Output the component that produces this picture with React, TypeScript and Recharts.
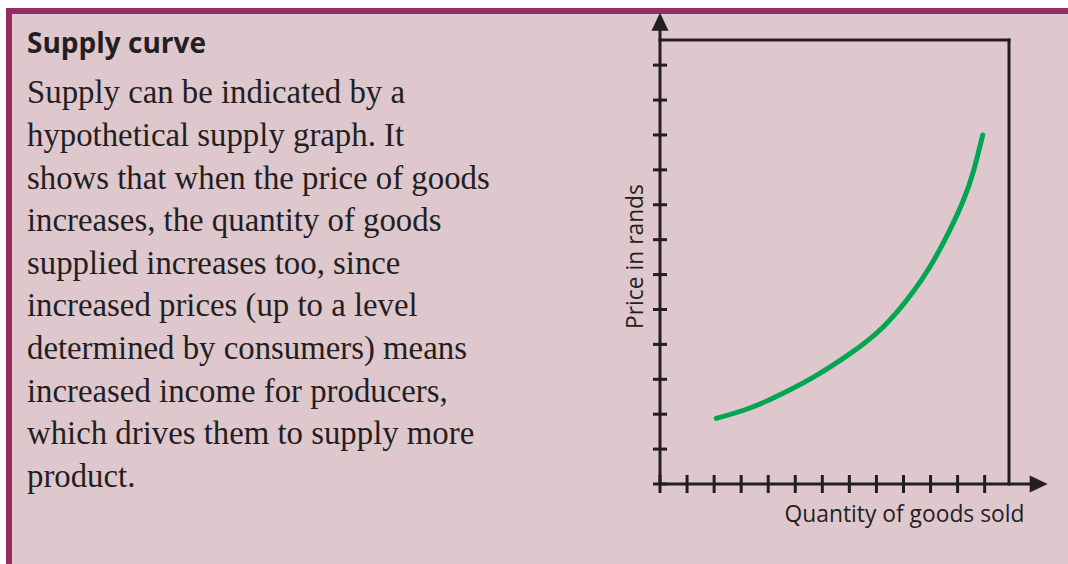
import React from 'react';
import { LineChart, Line, XAxis, YAxis, ReferenceLine } from 'recharts';

// ---- data ----
const QUANTITY = [2.08, 3.3, 4.55, 5.8, 7.0, 8.25, 9.35, 10.0, 10.6, 11.2, 11.6, 11.93];
const PRICE = [1.88, 2.17, 2.6, 3.12, 3.72, 4.5, 5.5, 6.25, 7.1, 8.1, 9.0, 10.0];
const X_TICKS = [0, 1, 2, 3, 4, 5, 6, 7, 8, 9, 10, 11, 12];
const Y_TICKS = [0, 1, 2, 3, 4, 5, 6, 7, 8, 9, 10, 11, 12];
const X_MAX = 12.9;
const Y_MAX = 12.72;
const X_ARROW = 14.33;
const Y_ARROW = 13.5;

const TITLE = 'Supply curve';
const BODY_LINES = [
  'Supply can be indicated by a',
  'hypothetical supply graph. It',
  'shows that when the price of goods',
  'increases, the quantity of goods',
  'supplied increases too, since',
  'increased prices (up to a level',
  'determined by consumers) means',
  'increased income for producers,',
  'which drives them to supply more',
  'product.',
];
const X_LABEL = 'Quantity of goods sold';
const Y_LABEL = 'Price in rands';

const data = QUANTITY.map((q, i) => ({ q, p: PRICE[i] }));

const INK = '#231f20';
const GREEN = '#00a651';
const PANEL = '#dfc7ce';
const BORDER = '#962c63';

const ArrowLine = (props: any) => {
  const { x1, y1, x2, y2 } = props;
  const dx = x2 - x1;
  const dy = y2 - y1;
  const len = Math.hypot(dx, dy) || 1;
  const ux = dx / len;
  const uy = dy / len;
  const headLen = 18;
  const half = 8.5;
  const bx = x2 - ux * headLen;
  const by = y2 - uy * headLen;
  const px = -uy;
  const py = ux;
  return (
    <g>
      <line x1={x1} y1={y1} x2={bx + ux} y2={by + uy} stroke={INK} strokeWidth={3} />
      <polygon
        points={`${x2},${y2} ${bx + px * half},${by + py * half} ${bx - px * half},${by - py * half}`}
        fill={INK}
      />
    </g>
  );
};

const BoxLine = (props: any) => {
  const { x1, y1, x2, y2 } = props;
  return <line x1={x1} y1={y1} x2={x2} y2={y2} stroke={INK} strokeWidth={3} strokeLinecap="square" />;
};

const XTick = (props: any) => {
  const { x, y } = props;
  return <line x1={x} x2={x} y1={y - 9} y2={y + 9} stroke={INK} strokeWidth={3} />;
};

const YTick = (props: any) => {
  const { x, y } = props;
  return <line x1={x - 7} x2={x + 7} y1={y} y2={y} stroke={INK} strokeWidth={3} />;
};

const XLabel = (props: any) => {
  const vb = props.viewBox || { x: 660, y: 484, width: 349 };
  return (
    <text
      x={vb.x + 244.5}
      y={vb.y + 38}
      textAnchor="middle"
      fill={INK}
      fontFamily="'Open Sans', sans-serif"
      fontSize={22.8}
    >
      {X_LABEL}
    </text>
  );
};

const YLabel = (props: any) => {
  const vb = props.viewBox || { x: 659, y: 40, width: 1, height: 444 };
  const cx = vb.x + vb.width - 17;
  const cy = 256.5;
  return (
    <text
      x={cx}
      y={cy}
      transform={`rotate(-90 ${cx} ${cy})`}
      textAnchor="middle"
      fill={INK}
      fontFamily="'Open Sans', sans-serif"
      fontSize={22.8}
    >
      {Y_LABEL}
    </text>
  );
};

export default function App() {
  return (
    <div style={{ position: 'absolute', left: 0, top: 0, width: 1068, height: 564, background: '#ffffff', overflow: 'hidden' }}>
      <div
        style={{
          position: 'absolute',
          left: 6,
          top: 8,
          width: 1062,
          height: 556,
          background: PANEL,
          borderLeft: `6px solid ${BORDER}`,
          borderTop: `6px solid ${BORDER}`,
          boxSizing: 'border-box',
        }}
      />
      <svg width={1068} height={564} style={{ position: 'absolute', left: 0, top: 0 }}>
        <text x={27} y={53.3} fill={INK} fontFamily="'Open Sans', sans-serif" fontWeight={700} fontSize={28}>
          {TITLE}
        </text>
        {BODY_LINES.map((t, i) => (
          <text key={i} x={27} y={103.3 + i * 42.6} fill={INK} fontFamily="'Liberation Serif', serif" fontSize={32.8}>
            {t}
          </text>
        ))}
      </svg>
      <div style={{ position: 'absolute', left: 0, top: 0 }}>
        <LineChart width={1068} height={564} data={data} margin={{ top: 40, right: 59, bottom: 79, left: 659 }}>
          <XAxis
            dataKey="q"
            type="number"
            domain={[0, X_MAX]}
            allowDataOverflow
            ticks={X_TICKS}
            interval={0}
            height={1}
            axisLine={false}
            tickLine={false}
            tickSize={0}
            tickMargin={0}
            tick={<XTick />}
            label={(p: any) => <XLabel {...p} />}
          />
          <YAxis
            dataKey="p"
            type="number"
            domain={[0, Y_MAX]}
            allowDataOverflow
            ticks={Y_TICKS}
            interval={0}
            width={1}
            axisLine={false}
            tickLine={false}
            tickSize={0}
            tickMargin={0}
            tick={<YTick />}
            label={(p: any) => <YLabel {...p} />}
          />
          <ReferenceLine
            segment={[{ x: 0, y: Y_MAX }, { x: X_MAX, y: Y_MAX }]}
            ifOverflow="visible"
            shape={<BoxLine />}
          />
          <ReferenceLine
            segment={[{ x: X_MAX, y: 0 }, { x: X_MAX, y: Y_MAX }]}
            ifOverflow="visible"
            shape={<BoxLine />}
          />
          <ReferenceLine
            segment={[{ x: 0, y: 0 }, { x: 0, y: Y_ARROW }]}
            ifOverflow="visible"
            shape={<ArrowLine />}
          />
          <ReferenceLine
            segment={[{ x: 0, y: 0 }, { x: X_ARROW, y: 0 }]}
            ifOverflow="visible"
            shape={<ArrowLine />}
          />
          <Line
            type="natural"
            dataKey="p"
            stroke={GREEN}
            strokeWidth={5}
            strokeLinecap="round"
            dot={false}
            activeDot={false}
            isAnimationActive={false}
          />
        </LineChart>
      </div>
    </div>
  );
}
